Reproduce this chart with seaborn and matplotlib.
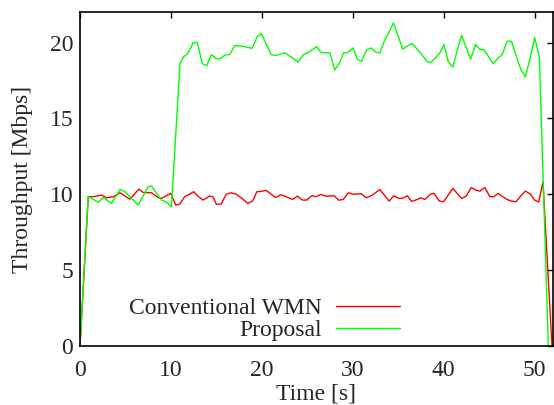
import pandas as pd
import matplotlib
matplotlib.use('Agg')
import matplotlib.pyplot as plt
import seaborn as sns

# Values
t_conv = [0, 0.91, 1.46, 2.38, 2.92, 3.66, 4.39, 5.48, 6.47, 6.95, 7.86, 8.59, 8.95,
          9.98, 10.53, 10.96, 11.51, 11.88, 12.5, 12.97, 13.52, 14.25, 14.62, 14.99,
          15.53, 16.08, 16.63, 17.18, 17.9, 18.46, 19.0, 19.44, 19.92, 20.47, 21.49,
          22.11, 22.66, 23.39, 23.9, 24.45, 24.93, 25.5, 25.95, 26.45, 27.05, 27.96,
          28.45, 28.95, 29.5, 30.1, 30.9, 31.5, 32.16, 32.97, 33.99, 34.5, 35.09,
          35.45, 36.0, 36.48, 37.1, 37.46, 37.94, 38.5, 38.93, 39.5, 39.98, 41.0,
          41.96, 42.47, 43.02, 43.5, 43.97, 44.52, 45.07, 45.5, 45.98, 46.49, 46.97,
          47.45, 47.95, 48.54, 48.98, 49.53, 50.0, 50.44, 50.91, 51.9]
conv = [0, 9.84, 9.84, 9.95, 9.77, 9.84, 10.1, 9.68, 10.34, 10.12, 10.1, 9.79, 9.73,
        10.06, 9.29, 9.35, 9.84, 9.95, 10.17, 9.88, 9.62, 9.88, 9.84, 9.35,
        9.35, 10.01, 10.1, 10.01, 9.68, 9.4, 9.57, 10.17, 10.19, 10.26, 9.79,
        9.97, 9.84, 9.66, 9.88, 9.62, 9.62, 9.91, 9.84, 9.99, 9.88, 9.9,
        9.61, 9.66, 10.1, 10.0, 10.04, 9.77, 9.95, 10.32, 9.55, 9.9, 9.73,
        9.73, 9.9, 9.53, 9.66, 9.77, 9.66, 10.0, 10.06, 9.55, 9.51, 10.39,
        9.73, 9.88, 10.45, 10.28, 10.21, 10.45, 9.84, 9.84, 10.06, 9.84, 9.66,
        9.55, 9.51, 9.95, 10.21, 10.01, 9.62, 9.49, 10.82, 0]

t_prop = [0, 0.9, 2.0, 2.56, 3.47, 4.39, 4.93, 5.48, 6.4, 7.5, 7.86, 8.95, 9.5, 10.05,
          11.0, 11.4, 11.9, 12.45, 12.9, 13.45, 13.93, 14.44, 14.99, 15.42, 15.97,
          16.48, 17.0, 17.73, 18.46, 18.93, 19.48, 19.96, 21.0, 21.56, 22.48, 23.2,
          23.98, 24.56, 25.22, 26.02, 26.5, 27.49, 28.0, 28.5, 28.98, 29.4, 30.04,
          30.5, 30.96, 31.5, 31.98, 32.53, 32.97, 33.5, 33.99, 34.47, 34.98, 35.49,
          36.0, 36.55, 37.1, 37.64, 38.19, 38.56, 39.11, 39.58, 40.02, 40.5, 41.0,
          41.48, 41.96, 42.47, 42.95, 43.5, 43.94, 44.4, 44.96, 45.43, 45.94, 46.42,
          46.97, 47.44, 47.95, 48.43, 48.98, 49.53, 50.0, 50.51, 51.5]
prop = [0, 9.88, 9.47, 9.79, 9.4, 10.32, 10.17, 9.84, 9.29, 10.5, 10.54, 9.62, 9.5, 9.18,
        18.62, 19.06, 19.33, 20.0, 20.0, 18.62, 18.47, 19.21, 18.95, 18.93, 19.19,
        19.21, 19.8, 19.78, 19.68, 19.63, 20.38, 20.6, 19.21, 19.15, 19.33, 19.06,
        18.71, 19.21, 19.39, 19.74, 19.34, 19.32, 18.2, 18.62, 19.33, 19.33, 19.65,
        18.89, 18.77, 19.5, 19.65, 19.37, 19.32, 20.16, 20.7, 21.3, 20.44, 19.57,
        19.78, 19.94, 19.54, 19.17, 18.73, 18.69, 19.0, 19.33, 19.87, 18.73, 18.4,
        19.5, 20.49, 19.67, 18.91, 19.87, 19.57, 19.52, 19.06, 18.62, 18.95, 19.21,
        20.09, 20.09, 19.17, 18.29, 17.74, 19.06, 20.33, 19.06, 0]

x_ticks = [0, 10, 20, 30, 40, 50]
y_ticks = [0, 5, 10, 15, 20]

sns.set_style('white')
plt.rcParams['font.family'] = ['Liberation Serif', 'DejaVu Serif']
plt.rcParams['xtick.direction'] = 'in'
plt.rcParams['ytick.direction'] = 'in'

fig = plt.figure(figsize=(5.54, 4.05), dpi=100)
ax = fig.add_axes([0.1444, 0.1457, 0.8536, 0.824])

sns.lineplot(x=t_conv, y=conv, color='#ff0000', linewidth=1.0, sort=False,
             estimator=None, label='Conventional WMN', ax=ax)
sns.lineplot(x=t_prop, y=prop, color='#00ff00', linewidth=1.0, sort=False,
             estimator=None, label='Proposal', ax=ax)

ax.set_xlim(0, 52)
ax.set_ylim(0, 22)
ax.set_xticks(x_ticks)
ax.set_yticks(y_ticks)
ax.tick_params(axis='both', labelsize=17, length=4, width=1, color='black',
               top=True, right=True)
ax.tick_params(axis='x', pad=10)
ax.tick_params(axis='y', pad=5)
for s in ax.spines.values():
    s.set_color('black')
    s.set_linewidth(1.2)

ax.set_xlabel('Time [s]', fontsize=17, labelpad=2)
ax.set_ylabel('Throughput [Mbps]', fontsize=17, labelpad=12)

ax.legend(loc='lower right', bbox_to_anchor=(0.677, 0.015), frameon=False,
          markerfirst=False, fontsize=17, handlelength=2.7, handletextpad=0.6,
          labelspacing=0.02, borderaxespad=0, borderpad=0)

fig.savefig('out.png', dpi=100)
